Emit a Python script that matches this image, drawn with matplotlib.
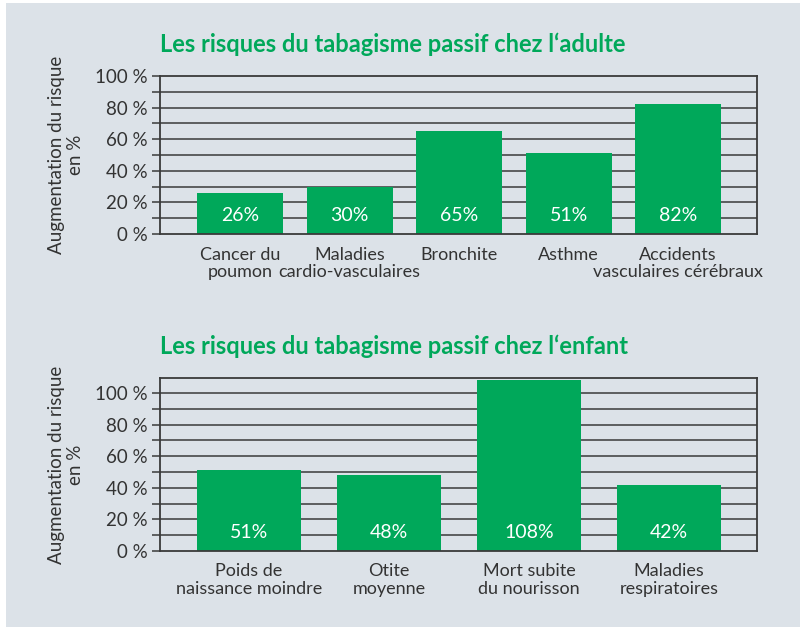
import matplotlib.pyplot as plt
from matplotlib.patches import Rectangle

plt.rcParams['font.family'] = ['Lato', 'DejaVu Sans']

adult_cats = ["Cancer du\npoumon", "Maladies\ncardio-vasculaires", "Bronchite",
              "Asthme", "Accidents\nvasculaires cérébraux"]
adult_vals = [26, 30, 65, 51, 82]
adult_labels = ["26%", "30%", "65%", "51%", "82%"]

child_cats = ["Poids de\nnaissance moindre", "Otite\nmoyenne",
              "Mort subite\ndu nourisson", "Maladies\nrespiratoires"]
child_vals = [51, 48, 108, 42]
child_labels = ["51%", "48%", "108%", "42%"]

yticks = [0, 20, 40, 60, 80, 100]
ytick_labels = ["0 %", "20 %", "40 %", "60 %", "80 %", "100 %"]

green = '#00a85a'
bg = '#dce2e8'
dark = '#333333'

fig = plt.figure(figsize=(8.02, 6.30), dpi=100)
fig.patches.append(Rectangle((6/802, 3/630), 794/802, 624/630, transform=fig.transFigure,
                             facecolor=bg, edgecolor='none', zorder=-10))


def draw(ax, cats, vals, labels, width, xlim, ylim, title):
    ax.set_facecolor('none')
    x = range(len(vals))
    ax.set_xlim(*xlim)
    ax.set_ylim(*ylim)
    for y in range(10, int(ylim[1]), 10):
        ax.axhline(y, color='#3a3a3a', lw=1.1, zorder=1)
    ax.bar(x, vals, width, color=green, zorder=2)
    for i, t in enumerate(labels):
        ax.text(i, 11.5, t, color='white', ha='center', va='center', fontsize=14,
                zorder=3)
    ax.set_yticks(yticks)
    ax.set_yticklabels(ytick_labels)
    ax.set_yticks(range(10, 101, 20), minor=True)
    ax.tick_params(axis='y', which='both', length=6, width=1.1, color='#3a3a3a',
                   labelsize=13.5, labelcolor=dark, pad=3)
    ax.set_xticks(list(x))
    ax.set_xticklabels(cats, fontsize=13, color=dark, linespacing=1.1)
    ax.tick_params(axis='x', length=0, pad=9)
    for s in ax.spines.values():
        s.set_color('#3a3a3a')
        s.set_linewidth(1.3)
    ax.set_ylabel("Augmentation du risque\nen %", fontsize=13.5, color=dark, linespacing=1.15,
                  labelpad=8)
    ax.set_title(title, loc='left', color=green, fontsize=17, fontweight='bold', pad=17)


ax1 = fig.add_axes([160/802, 1 - 234/630, 597/802, 158/630])
draw(ax1, adult_cats, adult_vals, adult_labels, 0.785, (-0.73, 4.72), (0, 100),
     "Les risques du tabagisme passif chez l\u2018adulte")

ax2 = fig.add_axes([160/802, 1 - 551/630, 597/802, 173/630])
draw(ax2, child_cats, child_vals, child_labels, 0.743, (-0.636, 3.629), (0, 109.5),
     "Les risques du tabagisme passif chez l\u2018enfant")

fig.savefig('out.png', dpi=100)
